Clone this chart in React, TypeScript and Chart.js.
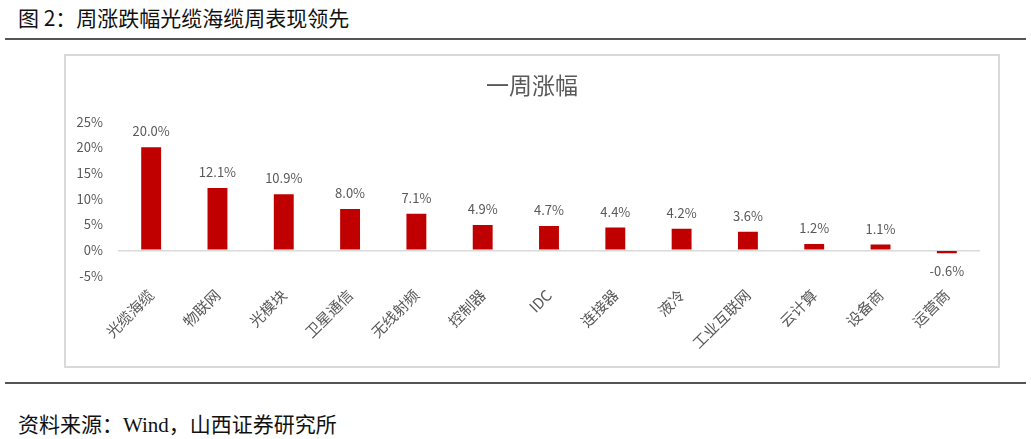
import React, { useEffect, useRef } from "react";
import { Chart, registerables } from "chart.js";

Chart.register(...registerables);

const categories = ["光缆海缆", "物联网", "光模块", "卫星通信", "无线射频", "控制器", "IDC", "连接器", "液冷", "工业互联网", "云计算", "设备商", "运营商"];
const weeklyChange = [20.0, 12.1, 10.9, 8.0, 7.1, 4.9, 4.7, 4.4, 4.2, 3.6, 1.2, 1.1, -0.6];
const yMin = -5;
const yMax = 25;
const yStep = 5;

const FONT = '"Noto Sans CJK SC", "Microsoft YaHei", sans-serif';
const GRAY = "#595959";

const valueLabels = {
  id: "valueLabels",
  afterDatasetsDraw(chart: any) {
    const ctx = chart.ctx;
    const meta = chart.getDatasetMeta(0);
    ctx.save();
    ctx.font = `13px ${FONT}`;
    ctx.fillStyle = GRAY;
    ctx.textAlign = "center";
    ctx.textBaseline = "middle";
    meta.data.forEach((bar: any, i: number) => {
      const v = weeklyChange[i];
      const y = v >= 0 ? bar.y - 16 : bar.y + 18;
      ctx.fillText(v.toFixed(1) + "%", bar.x, y);
    });
    ctx.restore();
  },
};

export default function App() {
  const ref = useRef<HTMLCanvasElement>(null);
  useEffect(() => {
    if (!ref.current) return;
    const chart = new Chart(ref.current, {
      type: "bar",
      data: {
        labels: categories,
        datasets: [
          {
            data: weeklyChange,
            backgroundColor: "#C00000",
            borderWidth: 0,
            categoryPercentage: 1,
            barPercentage: 0.3,
          },
        ],
      },
      options: {
        responsive: false,
        animation: false,
        layout: { padding: 0 },
        plugins: {
          legend: { display: false },
          tooltip: { enabled: false },
          title: {
            display: true,
            text: "一周涨幅",
            color: GRAY,
            font: { family: FONT, size: 23, weight: "normal" },
            padding: { top: 15, bottom: 23 },
          },
        },
        scales: {
          x: {
            grid: { display: false, drawTicks: false },
            border: { display: false },
            ticks: {
              color: GRAY,
              font: { family: FONT, size: 15 },
              maxRotation: 45,
              minRotation: 45,
              padding: 10,
              autoSkip: false,
            },
            afterFit(scale: any) {
              scale.height = 90;
            },
          },
          y: {
            min: yMin,
            max: yMax,
            grid: {
              drawTicks: false,
              color: (c: any) => (c.tick && c.tick.value === 0 ? "#d9d9d9" : "rgba(0,0,0,0)"),
              lineWidth: 1.5,
            },
            border: { display: false },
            ticks: {
              stepSize: yStep,
              color: GRAY,
              font: { family: FONT, size: 13 },
              padding: 15,
              callback: (v: any) => v + "%",
            },
            afterFit(scale: any) {
              scale.width = 52;
            },
          },
          yRightSpace: {
            position: "right",
            min: yMin,
            max: yMax,
            grid: { display: false, drawTicks: false },
            border: { display: false },
            ticks: { display: false },
            afterFit(scale: any) {
              scale.width = 18;
            },
          },
        },
      },
      plugins: [valueLabels],
    });
    return () => chart.destroy();
  }, []);

  return (
    <div style={{ position: "absolute", left: 0, top: 0, width: 1031, height: 439, background: "#fff", overflow: "hidden" }}>
      <div style={{ position: "absolute", left: 18, top: 3, fontFamily: FONT, fontSize: 21, color: "#111", whiteSpace: "nowrap", lineHeight: "28px" }}>
        图 2：周涨跌幅光缆海缆周表现领先
      </div>
      <div style={{ position: "absolute", left: 5, top: 38, width: 1021, height: 2, background: "#555" }} />
      <div style={{ position: "absolute", left: 64, top: 54, width: 932, height: 310, border: "2px solid #d9d9d9" }}>
        <canvas ref={ref} width={932} height={310} style={{ display: "block" }} />
      </div>
      <div style={{ position: "absolute", left: 5, top: 382, width: 1021, height: 2, background: "#555" }} />
      <div style={{ position: "absolute", left: 18, top: 411, fontFamily: '"Liberation Serif", "Noto Sans CJK SC", serif', fontSize: 21, color: "#111", whiteSpace: "nowrap", lineHeight: "28px" }}>
        资料来源：Wind，山西证券研究所
      </div>
    </div>
  );
}
